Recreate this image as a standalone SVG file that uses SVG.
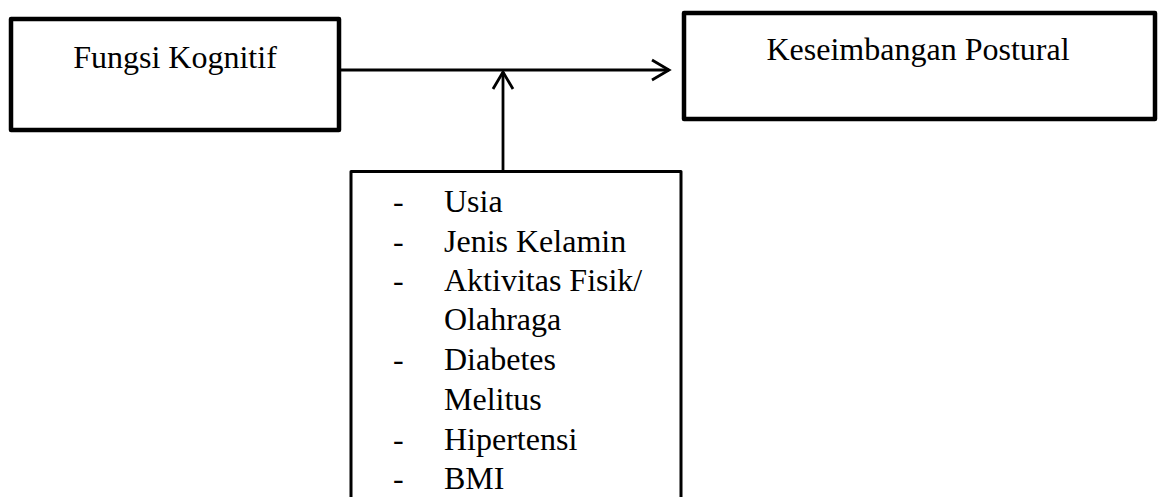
<svg xmlns="http://www.w3.org/2000/svg" width="1158" height="497" viewBox="0 0 1158 497">
<defs>
<style>
.box{fill:#fff;stroke:#000;stroke-linejoin:round}
.thick{stroke-width:4.5}
.thin{stroke-width:3}
.conn{stroke:#000;stroke-width:2.8;fill:none}
text{font-family:"Liberation Serif","Times New Roman",serif;font-size:32px;fill:#000}
</style>
<marker id="arr" markerUnits="userSpaceOnUse" viewBox="-20 -12 22 24" refX="0" refY="0" markerWidth="22" markerHeight="24" orient="auto" overflow="visible">
<path d="M-17,-10 L0,0 L-17,10" fill="none" stroke="#000" stroke-width="2.8" stroke-linejoin="miter"/>
</marker>
</defs>
<g id="connectors">
<line class="conn" x1="341" y1="70" x2="669" y2="70" marker-end="url(#arr)"/>
<line class="conn" x1="503" y1="170" x2="503" y2="72" marker-end="url(#arr)"/>
</g>
<g id="node-fungsi-kognitif">
<rect class="box thick" x="11" y="19" width="328" height="111"/>
<text x="175" y="68" text-anchor="middle">Fungsi Kognitif</text>
</g>
<g id="node-keseimbangan-postural">
<rect class="box thick" x="684" y="13" width="471" height="106"/>
<text x="918" y="60" text-anchor="middle">Keseimbangan Postural</text>
</g>
<g id="node-faktor">
<rect class="box thin" x="351" y="171.5" width="330" height="360"/>
<text x="393" y="212">-</text><text x="444" y="212">Usia</text>
<text x="393" y="252">-</text><text x="444" y="252">Jenis Kelamin</text>
<text x="393" y="291">-</text><text x="444" y="291">Aktivitas Fisik/</text>
<text x="444" y="330">Olahraga</text>
<text x="393" y="370">-</text><text x="444" y="370">Diabetes</text>
<text x="444" y="410">Melitus</text>
<text x="393" y="450">-</text><text x="444" y="450">Hipertensi</text>
<text x="393" y="489">-</text><text x="444" y="489">BMI</text>
</g>
</svg>
